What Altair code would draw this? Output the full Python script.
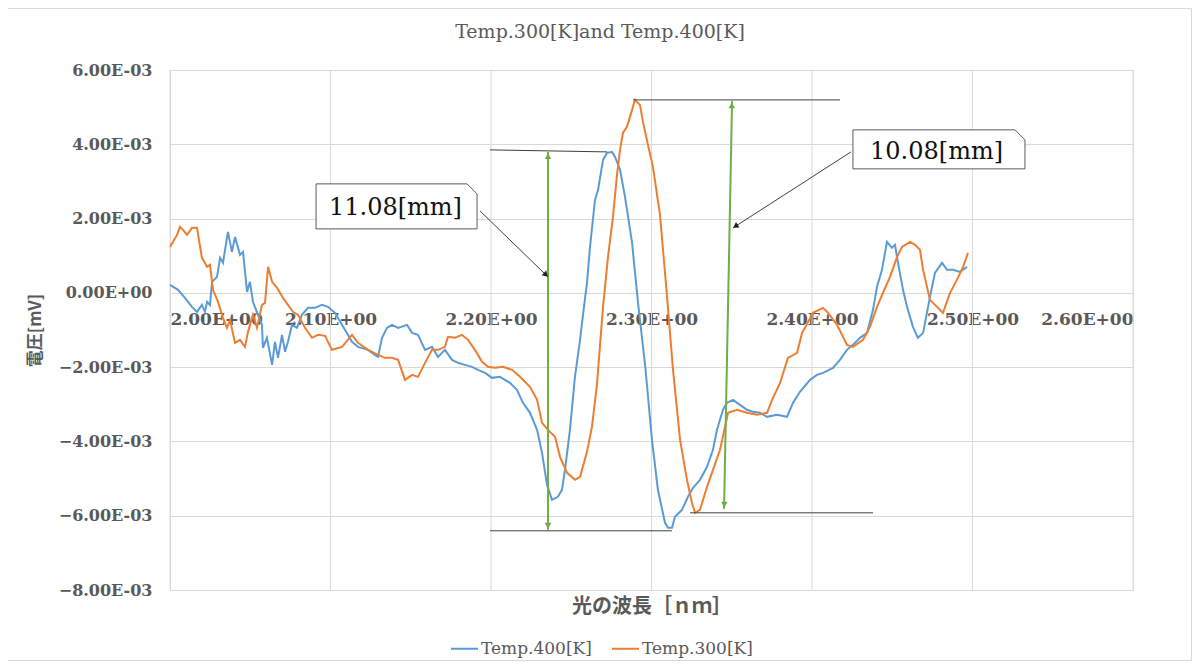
import altair as alt
import pandas as pd

# ---- series values: (wavelength, voltage in units of 1E-03) ----
temp400 = [
    (2.0000, 0.215), (2.0050, 0.081), (2.0093, -0.135), (2.0137, -0.377), (2.0168, -0.511),
    (2.0199, -0.323), (2.0218, -0.511), (2.0231, -0.242), (2.0249, -0.323), (2.0262, 0.296),
    (2.0293, 0.431), (2.0312, 0.942), (2.0330, 0.808), (2.0361, 1.642), (2.0386, 1.104),
    (2.0405, 1.507), (2.0436, 1.023), (2.0455, 1.104), (2.0480, 0.027), (2.0498, 0.296),
    (2.0517, -0.242), (2.0548, -0.592), (2.0573, -0.861), (2.0579, -1.480), (2.0604, -1.211),
    (2.0636, -1.938), (2.0654, -1.319), (2.0673, -1.750), (2.0698, -1.131), (2.0717, -1.588),
    (2.0735, -1.319), (2.0760, -0.861), (2.0791, -0.942), (2.0822, -0.592), (2.0860, -0.404),
    (2.0903, -0.404), (2.0947, -0.323), (2.0984, -0.377), (2.1028, -0.538), (2.1090, -0.996),
    (2.1134, -1.319), (2.1171, -1.454), (2.1234, -1.534), (2.1277, -1.669), (2.1296, -1.723),
    (2.1321, -1.211), (2.1352, -0.942), (2.1383, -0.861), (2.1421, -0.942), (2.1477, -0.861),
    (2.1508, -1.077), (2.1545, -1.131), (2.1589, -1.534), (2.1632, -1.454), (2.1670, -1.723),
    (2.1713, -1.534), (2.1757, -1.804), (2.1794, -1.884), (2.1838, -1.938), (2.1882, -1.992),
    (2.1919, -2.073), (2.1963, -2.153), (2.2006, -2.288), (2.2056, -2.261), (2.2118, -2.423),
    (2.2162, -2.611), (2.2199, -2.961), (2.2243, -3.230), (2.2287, -3.688), (2.2318, -4.307),
    (2.2349, -5.168), (2.2380, -5.572), (2.2417, -5.491), (2.2442, -5.303), (2.2461, -4.764),
    (2.2492, -3.688), (2.2523, -2.261), (2.2555, -1.265), (2.2567, -0.808), (2.2598, 0.269),
    (2.2617, 1.238), (2.2648, 2.503), (2.2667, 2.773), (2.2698, 3.580), (2.2723, 3.769),
    (2.2754, 3.795), (2.2773, 3.661), (2.2804, 3.311), (2.2835, 2.584), (2.2879, 1.346),
    (2.2916, -0.269), (2.2960, -1.938), (2.3003, -3.957), (2.3040, -5.303), (2.3084, -6.191),
    (2.3103, -6.326), (2.3128, -6.326), (2.3146, -6.030), (2.3190, -5.841), (2.3227, -5.491),
    (2.3259, -5.249), (2.3302, -5.034), (2.3346, -4.684), (2.3383, -4.226), (2.3408, -3.688),
    (2.3445, -3.149), (2.3470, -2.961), (2.3508, -2.880), (2.3551, -3.015), (2.3595, -3.149),
    (2.3632, -3.203), (2.3676, -3.230), (2.3720, -3.338), (2.3782, -3.284), (2.3844, -3.338),
    (2.3882, -2.961), (2.3925, -2.665), (2.3988, -2.342), (2.4031, -2.207), (2.4069, -2.153),
    (2.4131, -2.019), (2.4174, -1.804), (2.4218, -1.534), (2.4255, -1.400), (2.4299, -1.211),
    (2.4343, -1.077), (2.4380, -0.458), (2.4405, 0.162), (2.4436, 0.619), (2.4467, 1.373),
    (2.4498, 1.211), (2.4517, 1.292), (2.4536, 0.808), (2.4567, 0.081), (2.4592, -0.377),
    (2.4629, -0.915), (2.4660, -1.211), (2.4692, -1.077), (2.4735, -0.108), (2.4766, 0.538),
    (2.4810, 0.808), (2.4841, 0.619), (2.4879, 0.619), (2.4922, 0.565), (2.4966, 0.700),
]

temp300 = [
    (2.0000, 1.238), (2.0019, 1.373), (2.0044, 1.561), (2.0062, 1.777), (2.0081, 1.696),
    (2.0106, 1.561), (2.0137, 1.750), (2.0168, 1.750), (2.0199, 0.942), (2.0231, 0.700),
    (2.0249, 0.754), (2.0268, 0.081), (2.0299, -0.242), (2.0330, -0.673), (2.0355, -0.942),
    (2.0374, -0.727), (2.0405, -1.346), (2.0436, -1.265), (2.0467, -1.454), (2.0486, -1.050),
    (2.0517, -0.592), (2.0542, -0.942), (2.0573, -0.323), (2.0592, -0.269), (2.0611, 0.700),
    (2.0636, 0.296), (2.0667, 0.135), (2.0704, -0.135), (2.0735, -0.323), (2.0766, -0.511),
    (2.0798, -0.592), (2.0841, -0.942), (2.0885, -1.211), (2.0922, -1.131), (2.0966, -1.157),
    (2.1009, -1.534), (2.1072, -1.454), (2.1134, -1.131), (2.1171, -1.346), (2.1234, -1.534),
    (2.1296, -1.669), (2.1340, -1.750), (2.1383, -1.750), (2.1421, -1.804), (2.1464, -2.342),
    (2.1508, -2.207), (2.1545, -2.261), (2.1589, -1.884), (2.1632, -1.534), (2.1670, -1.534),
    (2.1713, -1.454), (2.1732, -1.184), (2.1776, -1.211), (2.1819, -1.131), (2.1857, -1.265),
    (2.1900, -1.534), (2.1944, -1.857), (2.1981, -1.992), (2.2025, -2.019), (2.2075, -1.992),
    (2.2131, -2.073), (2.2181, -2.261), (2.2243, -2.530), (2.2287, -2.880), (2.2318, -3.499),
    (2.2355, -3.688), (2.2399, -3.876), (2.2430, -4.415), (2.2474, -4.845), (2.2523, -5.034),
    (2.2555, -4.953), (2.2598, -4.280), (2.2629, -3.607), (2.2660, -2.476), (2.2698, -0.377),
    (2.2729, 0.969), (2.2760, 2.046), (2.2785, 3.176), (2.2804, 3.849), (2.2822, 4.307),
    (2.2847, 4.468), (2.2879, 4.926), (2.2897, 5.195), (2.2928, 5.061), (2.2947, 4.603),
    (2.2978, 3.984), (2.3009, 3.392), (2.3053, 2.100), (2.3097, -0.108), (2.3134, -2.073),
    (2.3178, -3.957), (2.3221, -5.034), (2.3252, -5.653), (2.3271, -5.922), (2.3302, -5.841),
    (2.3346, -5.222), (2.3383, -4.764), (2.3427, -4.226), (2.3477, -3.230), (2.3533, -3.149),
    (2.3595, -3.230), (2.3657, -3.284), (2.3720, -3.230), (2.3751, -2.880), (2.3801, -2.423),
    (2.3850, -1.750), (2.3907, -1.615), (2.3938, -1.077), (2.3956, -0.942), (2.4006, -0.538),
    (2.4069, -0.404), (2.4100, -0.538), (2.4156, -0.861), (2.4218, -1.400), (2.4255, -1.454),
    (2.4318, -1.265), (2.4361, -0.915), (2.4405, -0.377), (2.4442, 0.000), (2.4486, 0.431),
    (2.4530, 0.969), (2.4561, 1.238), (2.4611, 1.373), (2.4642, 1.292), (2.4673, 1.157),
    (2.4692, 0.619), (2.4735, -0.188), (2.4779, -0.377), (2.4816, -0.538), (2.4860, 0.000),
    (2.4903, 0.350), (2.4941, 0.700), (2.4972, 1.077),
]

series_names = ["Temp.400[K]", "Temp.300[K]"]
series_colors = ["#5B9BD5", "#ED7D31"]

# ---- axis ticks ----
x_ticks = [2.0, 2.1, 2.2, 2.3, 2.4, 2.5, 2.6]
y_ticks = [-8, -6, -4, -2, 0, 2, 4, 6]

# ---- annotations (data coordinates) ----
ref_x = [2.1994, 2.2885, 2.1994, 2.3240]
ref_x2 = [2.2723, 2.4174, 2.3128, 2.4380]
ref_y = [3.849, 5.195, -6.406, -5.922]
ref_y2 = [3.795, 5.195, -6.406, -5.922]

green_x = [2.2355, 2.3502]
green_x2 = [2.2355, 2.3452]
green_y = [3.795, 5.168]
green_y2 = [-6.380, -5.814]
ghead_x = [2.2355, 2.2355, 2.3500, 2.3454]
ghead_y = [3.68, -6.27, 5.05, -5.70]
ghead_ang = [0, 180, 0, 180]

lead_x = [2.1931, 2.4243]
lead_x2 = [2.2355, 2.3508]
lead_y = [2.207, 3.795]
lead_y2 = [0.431, 1.750]
lhead_x = [2.2342, 2.3523]
lhead_y = [0.487, 1.793]
lhead_ang = [134, 237]

box_x = [2.0910, 2.4255]
box_x2 = [2.1913, 2.5327]
box_y = [2.934, 4.388]
box_y2 = [1.723, 3.338]
box_cut_x = 0.0062
box_cut_y = 0.269
box_text = ["11.08[mm]", "10.08[mm]"]
box_text_x = [2.1405, 2.4776]
box_text_y = [2.288, 3.795]

title_text = "Temp.300[K]and Temp.400[K]"
x_title = "光の波長［ｎｍ］"
y_title = "電圧[mV]"

# ---- build tables ----
rows = []
for name, pts in zip(series_names, [temp400, temp300]):
    for i, (xv, yv) in enumerate(pts):
        rows.append({"series": name, "x": xv, "y": yv, "i": i})
df = pd.DataFrame(rows)

ref_df = pd.DataFrame({"x": ref_x, "x2": ref_x2, "y": ref_y, "y2": ref_y2})
green_df = pd.DataFrame({"x": green_x, "x2": green_x2, "y": green_y, "y2": green_y2})
ghead_df = pd.DataFrame({"x": ghead_x, "y": ghead_y, "a": ghead_ang})
lead_df = pd.DataFrame({"x": lead_x, "x2": lead_x2, "y": lead_y, "y2": lead_y2})
lhead_df = pd.DataFrame({"x": lhead_x, "y": lhead_y, "a": lhead_ang})
box_df = pd.DataFrame({"x": box_x, "x2": box_x2, "y": box_y, "y2": box_y2})
outline_rows = []
for b in range(len(box_x)):
    pts = [(box_x[b], box_y[b]), (box_x2[b] - box_cut_x, box_y[b]), (box_x2[b], box_y[b] - box_cut_y),
           (box_x2[b], box_y2[b]), (box_x[b], box_y2[b]), (box_x[b], box_y[b])]
    for k, (px, py) in enumerate(pts):
        outline_rows.append({"b": b, "k": k, "x": px, "y": py})
outline_df = pd.DataFrame(outline_rows)
text_df = pd.DataFrame({"x": box_text_x, "y": box_text_y, "t": box_text})
grid_df = pd.DataFrame({"x": x_ticks})
one = pd.DataFrame({"a": [0]})

xs = alt.Scale(domain=[2.0, 2.6], nice=False, zero=False)
ys = alt.Scale(domain=[-8, 6], nice=False, zero=False)
SERIF = "DejaVu Serif"
JP = "Noto Sans CJK JP"
GRID = "#D9D9D9"
TXT = "#595959"

x_axis = alt.Axis(
    values=x_ticks, grid=False, domain=False, ticks=False, offset=-297,
    labelExpr="format(datum.value, '.2f') + 'E+00'",
    labelFont=SERIF, labelFontSize=17, labelFontWeight="bold", labelColor=TXT,
    labelPadding=18, title=x_title, titleFont=JP, titleFontSize=20, titleFontWeight="bold",
    titleColor=TXT, titleY=313, titleBaseline="middle",
)
y_axis = alt.Axis(
    values=y_ticks, grid=True, gridColor=GRID, gridWidth=1, domain=False, ticks=False,
    labelExpr="datum.value == 0 ? '0.00E+00' : format(datum.value, '.2f') + 'E-03'",
    labelFont=SERIF, labelFontSize=16, labelFontWeight="bold", labelColor=TXT,
    labelPadding=18, title=y_title, titleFont=JP, titleFontSize=17, titleFontWeight="bold",
    titleColor=TXT, titleX=-135, titleY=260, titleAngle=270, titleAlign="center",
    titleBaseline="middle",
)


def X(field="x:Q"):
    return alt.X(field, scale=xs, axis=x_axis)


def Y(field="y:Q"):
    return alt.Y(field, scale=ys, axis=y_axis)


border = alt.Chart(one).mark_rect(fill=None, stroke=GRID, strokeWidth=1).encode(
    x=alt.value(-162.5), x2=alt.value(1021.5), y=alt.value(-61.5), y2=alt.value(590.5)
)
vgrid = alt.Chart(grid_df).mark_rule(color=GRID, strokeWidth=1).encode(x=X())

color_enc = alt.Color(
    "series:N",
    scale=alt.Scale(domain=series_names, range=series_colors),
    legend=alt.Legend(
        orient="none", legendX=280, legendY=564, direction="horizontal", title=None,
        symbolType="stroke", symbolSize=729, symbolStrokeWidth=2, labelFont=SERIF,
        labelFontSize=17, labelColor=TXT, labelOffset=2, columnPadding=16, padding=0,
    ),
)

blue = alt.Chart(df[df.series == series_names[0]]).mark_line(strokeWidth=2).encode(
    x=X(), y=Y(), color=color_enc, order="i:Q",
)
orange = alt.Chart(df[df.series == series_names[1]]).mark_line(strokeWidth=2).encode(
    x=X(), y=Y(), color=color_enc, order="i:Q",
)

ref_lines = alt.Chart(ref_df).mark_rule(color="#404040", strokeWidth=1).encode(
    x=X(), x2="x2:Q", y=Y(), y2="y2:Q",
)
green_lines = alt.Chart(green_df).mark_rule(color="#70AD47", strokeWidth=2).encode(
    x=X(), x2="x2:Q", y=Y(), y2="y2:Q",
)
green_heads = alt.Chart(ghead_df).mark_point(shape="triangle-up", filled=True, size=45,
                                             color="#70AD47", opacity=1).encode(
    x=X(), y=Y(), angle=alt.Angle("a:Q", scale=None),
)
lead_lines = alt.Chart(lead_df).mark_rule(color="#404040", strokeWidth=1).encode(
    x=X(), x2="x2:Q", y=Y(), y2="y2:Q",
)
lead_heads = alt.Chart(lhead_df).mark_point(shape="triangle-up", filled=True, size=40,
                                            color="#202020", opacity=1).encode(
    x=X(), y=Y(), angle=alt.Angle("a:Q", scale=None),
)
box_fill = alt.Chart(box_df).mark_rect(fill="white").encode(
    x=X(), x2="x2:Q", y=Y(), y2="y2:Q",
)
box_line = alt.Chart(outline_df).mark_line(color="#595959", strokeWidth=1).encode(
    x=X(), y=Y(), detail="b:N", order="k:Q",
)
box_label = alt.Chart(text_df).mark_text(font=SERIF, fontSize=24, color="#111111",
                                         align="center", baseline="middle").encode(
    x=X(), y=Y(), text="t:N"
)
title = alt.Chart(one).mark_text(text=title_text, font=SERIF, fontSize=19, color=TXT,
                                 align="center", baseline="middle").encode(
    x=alt.value(430), y=alt.value(-38)
)

chart = alt.layer(
    border, vgrid, blue, orange, ref_lines, green_lines, green_heads,
    lead_lines, lead_heads, box_fill, box_line, box_label, title,
).properties(
    width=963, height=520,
    autosize=alt.AutoSizeParams(type="none"),
    padding={"left": 162, "top": 62, "right": 59, "bottom": 78},
).configure_view(stroke=None).configure(background="white")

chart.save("out.html", embed_options={"renderer": "svg", "actions": False})
